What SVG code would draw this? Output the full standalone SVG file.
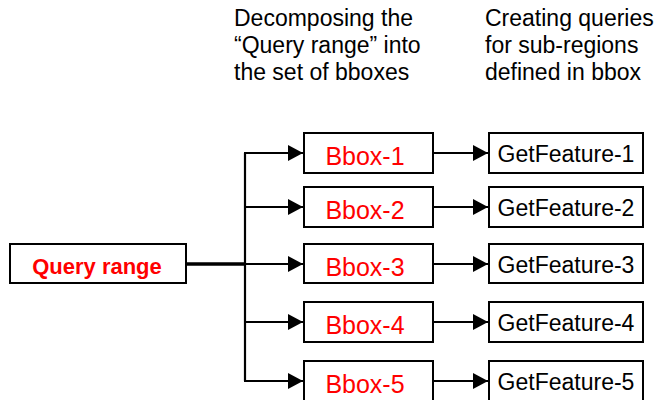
<svg xmlns="http://www.w3.org/2000/svg" width="662" height="400" viewBox="0 0 662 400">
<style>
.box{fill:#fff;stroke:#000;stroke-width:2}
.red{fill:#ff0000;font-family:"Liberation Sans",Arial,sans-serif;font-size:25px;text-anchor:middle}
.qr{fill:#ff0000;font-family:"Liberation Sans",Arial,sans-serif;font-size:22px;font-weight:bold;text-anchor:middle}
.gf{fill:#000;font-family:"Liberation Sans",Arial,sans-serif;font-size:23px;text-anchor:middle}
.cap{fill:#000;font-family:"Liberation Sans",Arial,sans-serif;font-size:23px}
.ln{fill:none;stroke:#000;stroke-width:2.2}
</style>
<defs>
<marker id="ah" markerUnits="userSpaceOnUse" markerWidth="16" markerHeight="18" refX="15" refY="8" orient="auto">
<path d="M0,0 L15,8 L0,16 Z" fill="#000"/>
</marker>
</defs>
<g id="captions">
<text class="cap" x="234" y="26">Decomposing the</text>
<text class="cap" x="234" y="53">“Query range” into</text>
<text class="cap" x="234" y="80">the set of bboxes</text>
<text class="cap" x="485" y="26">Creating queries</text>
<text class="cap" x="485" y="53">for sub-regions</text>
<text class="cap" x="485" y="80">defined in bbox</text>
</g>
<g id="connectors">
<path class="ln" d="M186,264 H245" style="stroke-width:3.5"/>
<path class="ln" d="M245,153 V381"/>
<path class="ln" d="M244,153 H303" marker-end="url(#ah)"/>
<path class="ln" d="M245,207 H303" marker-end="url(#ah)"/>
<path class="ln" d="M245,264 H303" marker-end="url(#ah)"/>
<path class="ln" d="M245,322 H303" marker-end="url(#ah)"/>
<path class="ln" d="M244,381 H303" marker-end="url(#ah)"/>
<path class="ln" d="M433,153 H488" marker-end="url(#ah)"/>
<path class="ln" d="M433,207 H488" marker-end="url(#ah)"/>
<path class="ln" d="M433,264 H488" marker-end="url(#ah)"/>
<path class="ln" d="M433,322 H488" marker-end="url(#ah)"/>
<path class="ln" d="M433,381 H488" marker-end="url(#ah)"/>
</g>
<g id="query-range">
<rect class="box" x="10" y="244" width="176" height="39"/>
<text class="qr" x="97" y="274">Query range</text>
</g>
<g id="bbox-1"><rect class="box" x="304" y="133" width="129" height="40"/><text class="red" x="365" y="165">Bbox-1</text></g>
<g id="bbox-2"><rect class="box" x="304" y="187" width="129" height="40"/><text class="red" x="365" y="219">Bbox-2</text></g>
<g id="bbox-3"><rect class="box" x="304" y="244" width="129" height="39"/><text class="red" x="365" y="276">Bbox-3</text></g>
<g id="bbox-4"><rect class="box" x="304" y="302" width="129" height="40"/><text class="red" x="365" y="334">Bbox-4</text></g>
<g id="bbox-5"><rect class="box" x="304" y="361" width="129" height="40"/><text class="red" x="365" y="393">Bbox-5</text></g>
<g id="getfeature-1"><rect class="box" x="489" y="133" width="154" height="40"/><text class="gf" x="566" y="162">GetFeature-1</text></g>
<g id="getfeature-2"><rect class="box" x="489" y="187" width="154" height="40"/><text class="gf" x="566" y="216">GetFeature-2</text></g>
<g id="getfeature-3"><rect class="box" x="489" y="244" width="154" height="39"/><text class="gf" x="566" y="273">GetFeature-3</text></g>
<g id="getfeature-4"><rect class="box" x="489" y="302" width="154" height="40"/><text class="gf" x="566" y="331">GetFeature-4</text></g>
<g id="getfeature-5"><rect class="box" x="489" y="361" width="154" height="40"/><text class="gf" x="566" y="390">GetFeature-5</text></g>
</svg>
